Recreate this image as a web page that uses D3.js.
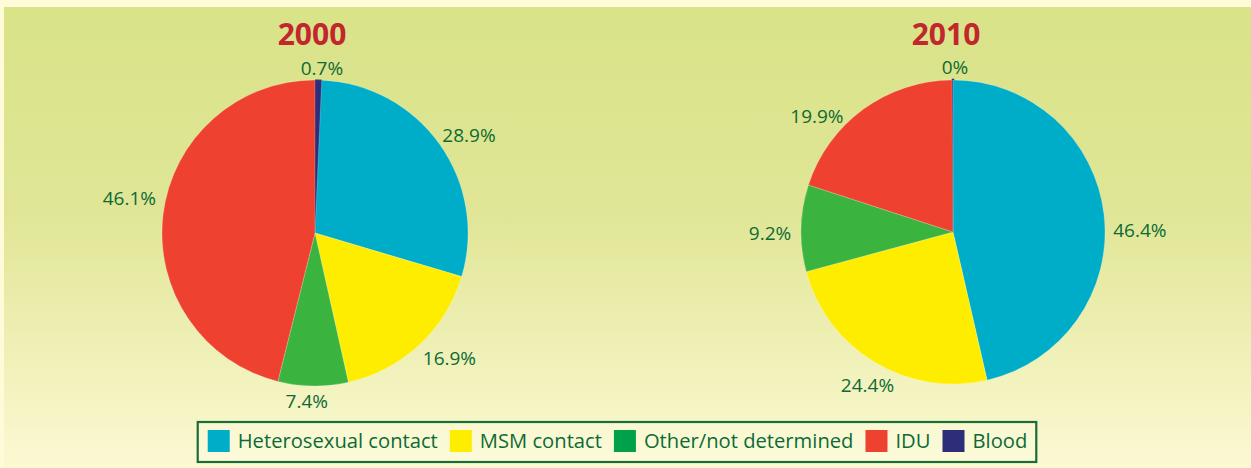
<!DOCTYPE html>
<html>
<head>
<meta charset="utf-8">
<script src="https://cdn.jsdelivr.net/npm/d3@7"></script>
<style>
  html, body { margin: 0; padding: 0; background: #fffad8; }
  svg { display: block; font-family: "Open Sans", "Noto Sans", sans-serif; }
</style>
</head>
<body>
<svg id="chart"></svg>
<script>
// ------------------------------------------------------------
// data
// ------------------------------------------------------------
const categories = ['Heterosexual contact', 'MSM contact', 'Other/not determined', 'IDU', 'Blood'];
const years = ['2000', '2010'];
const values2000 = [28.9, 16.9, 7.4, 46.1, 0.7];
const values2010 = [46.4, 24.4, 9.2, 19.9, 0];

// slices run clockwise from 12 o'clock: Blood first, then the rest
const sliceOrder = ['Blood', 'Heterosexual contact', 'MSM contact', 'Other/not determined', 'IDU'];

// ------------------------------------------------------------
// styling / layout
// ------------------------------------------------------------
const W = 1251, H = 468;
const pieColors = {
  'Heterosexual contact': '#00adc9',
  'MSM contact': '#ffed00',
  'Other/not determined': '#3bb33f',
  'IDU': '#ef4130',
  'Blood': '#2e2d79'
};
const legendColors = {
  'Heterosexual contact': '#00adc9',
  'MSM contact': '#ffed00',
  'Other/not determined': '#00a14b',
  'IDU': '#ef4130',
  'Blood': '#2e2d79'
};
const textGreen = '#0d6a35';
const titleRed = '#c1272d';

const pies = [
  { year: years[0], values: values2000, cx: 315, cy: 233, r: 153, titleDx: -3 },
  { year: years[1], values: values2010, cx: 953, cy: 232, r: 152, titleDx: -7 }
];

// small hand nudges so labels sit where the original puts them
const labelNudge = {
  '2000': { 'Blood': [3, 13], 'Heterosexual contact': [9, 5], 'MSM contact': [13, -5], 'Other/not determined': [-6, -10], 'IDU': [-9, -13] },
  '2010': { 'Blood': [2, 13], 'Heterosexual contact': [10, 18], 'MSM contact': [6, 1], 'Other/not determined': [-5, 6], 'IDU': [-31, 28] }
};

const svg = d3.select('#chart').attr('width', W).attr('height', H);

// background: cream page with a green-to-cream panel
const defs = svg.append('defs');
const grad = defs.append('linearGradient')
  .attr('id', 'panelGrad')
  .attr('x1', 0).attr('y1', 0).attr('x2', 0).attr('y2', 1);
grad.append('stop').attr('offset', '0%').attr('stop-color', '#d9e388');
grad.append('stop').attr('offset', '45%').attr('stop-color', '#e0e696');
grad.append('stop').attr('offset', '100%').attr('stop-color', '#fcf9d3');

svg.append('rect').attr('width', W).attr('height', H).attr('fill', '#fffad8');
svg.append('rect')
  .attr('x', 4).attr('y', 7)
  .attr('width', W - 4).attr('height', H - 7)
  .attr('fill', 'url(#panelGrad)');

// ------------------------------------------------------------
// pies
// ------------------------------------------------------------
pies.forEach((p) => {
  const rows = sliceOrder.map((name) => ({ name, value: p.values[categories.indexOf(name)] }));
  const total = d3.sum(rows, (d) => d.value);

  const pie = d3.pie()
    .sort(null)
    .value((d) => d.value)
    .startAngle(0)
    .endAngle(2 * Math.PI * total / 100);

  const arc = d3.arc().innerRadius(0).outerRadius(p.r);
  const labelArc = d3.arc().innerRadius(178).outerRadius(178);

  const g = svg.append('g').attr('transform', `translate(${p.cx},${p.cy})`);
  const arcs = pie(rows);

  g.selectAll('path.slice')
    .data(arcs)
    .enter()
    .append('path')
    .attr('class', 'slice')
    .attr('d', arc)
    .attr('fill', (d) => pieColors[d.data.name])
    .attr('stroke', (d) => (d.data.name === 'Blood' ? pieColors.Blood : 'rgba(255,255,255,0.35)'))
    .attr('stroke-width', (d) => (d.data.name === 'Blood' ? (d.data.value === 0 ? 3 : 1) : 0.6))
    .attr('stroke-linejoin', 'round');

  g.selectAll('text.pct')
    .data(arcs)
    .enter()
    .append('text')
    .attr('class', 'pct')
    .attr('x', (d) => labelArc.centroid(d)[0] + labelNudge[p.year][d.data.name][0])
    .attr('y', (d) => labelArc.centroid(d)[1] + labelNudge[p.year][d.data.name][1])
    .attr('dy', '0.36em')
    .attr('text-anchor', 'middle')
    .attr('font-size', 19)
    .attr('fill', textGreen)
    .text((d) => `${d.data.value}%`);

  svg.append('text')
    .attr('x', p.cx + p.titleDx)
    .attr('y', 45)
    .attr('text-anchor', 'middle')
    .attr('font-size', 30)
    .attr('font-weight', 700)
    .attr('fill', titleRed)
    .text(p.year);
});

// ------------------------------------------------------------
// legend
// ------------------------------------------------------------
const legendCenterX = 617;
const legendTop = 422, legendH = 40;
const sw = 22, swGap = 8, itemGap = 12, padL = 10, padR = 9;

const legend = svg.append('g');
const items = legend.selectAll('g.item')
  .data(categories)
  .enter()
  .append('g')
  .attr('class', 'item');

items.append('rect')
  .attr('width', sw).attr('height', sw)
  .attr('fill', (d) => legendColors[d]);

items.append('text')
  .attr('x', sw + swGap)
  .attr('y', sw / 2)
  .attr('dy', '0.36em')
  .attr('font-size', 20.2)
  .attr('fill', textGreen)
  .text((d) => d);

// lay items out left to right using measured text widths
let x = 0;
const offsets = [];
items.each(function () {
  offsets.push(x);
  const tw = d3.select(this).select('text').node().getComputedTextLength();
  x += sw + swGap + tw + itemGap;
});
const contentW = x - itemGap;
const boxW = padL + contentW + padR;
const boxX = legendCenterX - boxW / 2;

items.attr('transform', (d, i) => `translate(${boxX + padL + offsets[i]},${legendTop + (legendH - sw) / 2 - 1})`);

legend.insert('rect', ':first-child')
  .attr('x', boxX).attr('y', legendTop)
  .attr('width', boxW).attr('height', legendH)
  .attr('fill', 'rgba(255,255,240,0.25)')
  .attr('stroke', '#1b6d37')
  .attr('stroke-width', 2.2);
</script>
</body>
</html>
